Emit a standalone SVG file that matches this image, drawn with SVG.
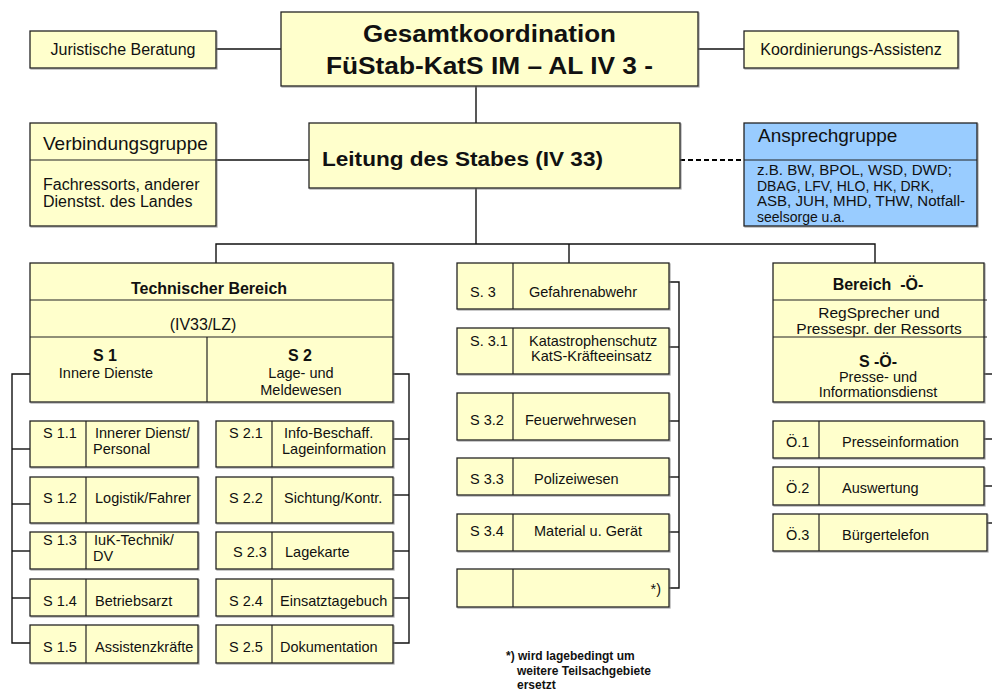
<svg xmlns="http://www.w3.org/2000/svg" width="992" height="693" viewBox="0 0 992 693">
<defs>
<filter id="sh" x="-5%" y="-5%" width="110%" height="115%">
<feDropShadow dx="1" dy="1" stdDeviation="0.6" flood-color="#777" flood-opacity="0.6"/>
</filter>
</defs>
<style>
text{font-family:"Liberation Sans",Arial,sans-serif;fill:#111}
.box{fill:#ffffcc;stroke:#222;stroke-width:1.3;filter:url(#sh)}
.blue{fill:#99ccff;stroke:#222;stroke-width:1.3;filter:url(#sh)}
.div{stroke:#222;stroke-width:1.2;fill:none}
.ln{stroke:#111;stroke-width:1.4;fill:none}
.t{font-size:14.5px}
.m{font-size:16px}
.b{font-weight:bold}
.c{text-anchor:middle}
.pre{white-space:pre}
</style>
<rect width="992" height="693" fill="#fff"/>

<g id="connectors">
<line class="ln" x1="216" y1="49" x2="281" y2="49"/>
<line class="ln" x1="698" y1="49" x2="744" y2="49"/>
<line class="ln" x1="476" y1="86" x2="476" y2="123"/>
<line class="ln" x1="216" y1="160" x2="309" y2="160"/>
<line x1="680" y1="160" x2="744" y2="160" stroke="#000" stroke-width="2.2" stroke-dasharray="5,3"/>
<line class="ln" x1="476" y1="188" x2="476" y2="244"/>
<polyline class="ln" points="216,263 216,244 875,244 875,263"/>
<line class="ln" x1="569" y1="244" x2="569" y2="263"/>
<polyline class="ln" points="30,374 12,374 12,643 30,643"/>
<line class="ln" x1="12" y1="449" x2="30" y2="449"/>
<line class="ln" x1="12" y1="504" x2="30" y2="504"/>
<line class="ln" x1="12" y1="551" x2="30" y2="551"/>
<line class="ln" x1="12" y1="598" x2="30" y2="598"/>
<polyline class="ln" points="393,374 409,374 409,643 393,643"/>
<line class="ln" x1="393" y1="439" x2="409" y2="439"/>
<line class="ln" x1="393" y1="495" x2="409" y2="495"/>
<line class="ln" x1="393" y1="551" x2="409" y2="551"/>
<line class="ln" x1="393" y1="598" x2="409" y2="598"/>
<polyline class="ln" points="669,282 679,282 679,588 669,588"/>
<line class="ln" x1="669" y1="347" x2="679" y2="347"/>
<line class="ln" x1="669" y1="421" x2="679" y2="421"/>
<line class="ln" x1="669" y1="477" x2="679" y2="477"/>
<line class="ln" x1="669" y1="532" x2="679" y2="532"/>
<line class="ln" x1="984" y1="374" x2="992" y2="374"/>
<line class="ln" x1="984" y1="439" x2="992" y2="439"/>
<line class="ln" x1="984" y1="486" x2="992" y2="486"/>
<line class="ln" x1="987" y1="523" x2="992" y2="523"/>
</g>

<g id="juristische">
<rect class="box" x="30" y="31" width="186" height="37"/>
<text class="m c" x="123" y="55">Juristische Beratung</text>
</g>

<g id="gesamt">
<rect class="box" x="281" y="12" width="417" height="74"/>
<text class="b c" x="489.5" y="42" font-size="23" textLength="253" lengthAdjust="spacingAndGlyphs">Gesamtkoordination</text>
<text class="b c" x="489.5" y="74" font-size="23" textLength="327" lengthAdjust="spacingAndGlyphs">FüStab-KatS IM – AL IV 3 -</text>
</g>

<g id="koordinierung">
<rect class="box" x="744" y="31" width="214" height="37"/>
<text class="m c" x="851" y="55">Koordinierungs-Assistenz</text>
</g>

<g id="verbindung">
<rect class="box" x="30" y="123" width="186" height="103"/>
<line class="div" x1="30" y1="160" x2="216" y2="160"/>
<text x="43" y="150" font-size="19">Verbindungsgruppe</text>
<text class="m" x="43" y="190">Fachressorts, anderer</text>
<text class="m" x="43" y="207">Dienstst. des Landes</text>
</g>

<g id="leitung">
<rect class="box" x="309" y="123" width="371" height="65"/>
<text class="b" x="322" y="166" font-size="21" textLength="281" lengthAdjust="spacingAndGlyphs">Leitung des Stabes (IV 33)</text>
</g>

<g id="ansprech">
<rect class="blue" x="744" y="123" width="233" height="103"/>
<line class="div" x1="744" y1="160" x2="977" y2="160"/>
<text x="758" y="142" font-size="19">Ansprechgruppe</text>
<text x="757" y="175" font-size="14" textLength="195" lengthAdjust="spacingAndGlyphs">z.B. BW, BPOL, WSD, DWD;</text>
<text x="757" y="191" font-size="14">DBAG, LFV, HLO, HK, DRK,</text>
<text x="757" y="206" font-size="14" textLength="208" lengthAdjust="spacingAndGlyphs">ASB, JUH, MHD, THW, Notfall-</text>
<text x="757" y="222" font-size="14">seelsorge u.a.</text>
</g>

<g id="technisch">
<rect class="box" x="30" y="263" width="363" height="139"/>
<line class="div" x1="30" y1="300" x2="393" y2="300"/>
<line class="div" x1="30" y1="337" x2="393" y2="337"/>
<line class="div" x1="207" y1="337" x2="207" y2="402"/>
<text class="b c m" x="209" y="294">Technischer Bereich</text>
<text class="c m" x="203" y="330">(IV33/LZ)</text>
<text class="b c m" x="105" y="361">S 1</text>
<text class="c t" x="106" y="378">Innere Dienste</text>
<text class="b c m" x="300" y="361">S 2</text>
<text class="c t" x="301" y="378">Lage- und</text>
<text class="c t" x="301" y="395">Meldewesen</text>
</g>

<g id="s11"><rect class="box" x="30" y="421" width="168" height="46"/><line class="div" x1="86" y1="421" x2="86" y2="467"/>
<text class="t" x="43" y="438">S 1.1</text><text class="t" x="95" y="438">Innerer Dienst/</text><text class="t" x="93" y="454">Personal</text></g>
<g id="s12"><rect class="box" x="30" y="477" width="168" height="46"/><line class="div" x1="86" y1="477" x2="86" y2="523"/>
<text class="t" x="43" y="503">S 1.2</text><text class="t" x="95" y="503">Logistik/Fahrer</text></g>
<g id="s13"><rect class="box" x="30" y="532" width="168" height="37"/><line class="div" x1="86" y1="532" x2="86" y2="569"/>
<text class="t" x="43" y="545">S 1.3</text><text class="t" x="94" y="545">IuK-Technik/</text><text class="t" x="93" y="561">DV</text></g>
<g id="s14"><rect class="box" x="30" y="579" width="168" height="37"/><line class="div" x1="86" y1="579" x2="86" y2="616"/>
<text class="t" x="43" y="606">S 1.4</text><text class="t" x="95" y="606">Betriebsarzt</text></g>
<g id="s15"><rect class="box" x="30" y="625" width="168" height="38"/><line class="div" x1="86" y1="625" x2="86" y2="663"/>
<text class="t" x="43" y="652">S 1.5</text><text class="t" x="95" y="652">Assistenzkräfte</text></g>

<g id="s21"><rect class="box" x="216" y="421" width="177" height="46"/><line class="div" x1="272" y1="421" x2="272" y2="467"/>
<text class="t" x="229" y="438">S 2.1</text><text class="t" x="284" y="438">Info-Beschaff.</text><text class="t" x="282" y="454">Lageinformation</text></g>
<g id="s22"><rect class="box" x="216" y="477" width="177" height="46"/><line class="div" x1="272" y1="477" x2="272" y2="523"/>
<text class="t" x="229" y="503">S 2.2</text><text class="t" x="284" y="503">Sichtung/Kontr.</text></g>
<g id="s23"><rect class="box" x="216" y="532" width="177" height="37"/><line class="div" x1="272" y1="532" x2="272" y2="569"/>
<text class="t" x="233" y="557">S 2.3</text><text class="t" x="285" y="557">Lagekarte</text></g>
<g id="s24"><rect class="box" x="216" y="579" width="177" height="37"/><line class="div" x1="272" y1="579" x2="272" y2="616"/>
<text class="t" x="229" y="606">S 2.4</text><text class="t" x="280" y="606">Einsatztagebuch</text></g>
<g id="s25"><rect class="box" x="216" y="625" width="177" height="38"/><line class="div" x1="272" y1="625" x2="272" y2="663"/>
<text class="t" x="229" y="652">S 2.5</text><text class="t" x="280" y="652">Dokumentation</text></g>

<g id="s3"><rect class="box" x="457" y="263" width="212" height="46"/><line class="div" x1="513" y1="263" x2="513" y2="309"/>
<text class="t" x="470" y="297">S. 3</text><text class="t" x="529" y="297">Gefahrenabwehr</text></g>
<g id="s31"><rect class="box" x="457" y="328" width="212" height="46"/><line class="div" x1="513" y1="328" x2="513" y2="374"/>
<text class="t" x="470" y="346">S. 3.1</text><text class="t" x="529" y="346">Katastrophenschutz</text><text class="t" x="531" y="361">KatS-Kräfteeinsatz</text></g>
<g id="s32"><rect class="box" x="457" y="393" width="212" height="47"/><line class="div" x1="513" y1="393" x2="513" y2="440"/>
<text class="t" x="470" y="425">S 3.2</text><text class="t" x="525" y="425">Feuerwehrwesen</text></g>
<g id="s33"><rect class="box" x="457" y="458" width="212" height="37"/><line class="div" x1="513" y1="458" x2="513" y2="495"/>
<text class="t" x="470" y="484">S 3.3</text><text class="t" x="534" y="484">Polizeiwesen</text></g>
<g id="s34"><rect class="box" x="457" y="514" width="212" height="37"/><line class="div" x1="513" y1="514" x2="513" y2="551"/>
<text class="t" x="470" y="536">S 3.4</text><text class="t" x="534" y="536">Material u. Gerät</text></g>
<g id="s3x"><rect class="box" x="457" y="569" width="212" height="38"/><line class="div" x1="513" y1="569" x2="513" y2="607"/>
<text class="t" x="661" y="594" text-anchor="end">*)</text></g>

<g id="footnote">
<text class="b" font-size="12" x="506" y="660">*) wird lagebedingt um</text>
<text class="b" font-size="12" x="517" y="675">weitere Teilsachgebiete</text>
<text class="b" font-size="12" x="517" y="689">ersetzt</text>
</g>

<g id="bereich-oe">
<rect class="box" x="773" y="263" width="211" height="139"/>
<line class="div" x1="773" y1="300" x2="987" y2="300"/>
<line class="div" x1="773" y1="337" x2="987" y2="337"/>
<text class="b c m pre" x="878" y="290">Bereich  -Ö-</text>
<text class="c" font-size="15.5" x="879" y="318">RegSprecher und</text>
<text class="c" font-size="15.5" x="879" y="334">Pressespr. der Ressorts</text>
<text class="b c m" x="878" y="367">S -Ö-</text>
<text class="c t" x="878" y="382">Presse- und</text>
<text class="c t" x="878" y="397">Informationsdienst</text>
</g>

<g id="oe1"><rect class="box" x="773" y="421" width="211" height="37"/><line class="div" x1="819" y1="421" x2="819" y2="458"/>
<text class="t" x="786" y="447">Ö.1</text><text class="t" x="842" y="447">Presseinformation</text></g>
<g id="oe2"><rect class="box" x="773" y="467" width="211" height="38"/><line class="div" x1="819" y1="467" x2="819" y2="505"/>
<text class="t" x="786" y="493">Ö.2</text><text class="t" x="842" y="493">Auswertung</text></g>
<g id="oe3"><rect class="box" x="773" y="514" width="214" height="37"/><line class="div" x1="819" y1="514" x2="819" y2="551"/>
<text class="t" x="786" y="540">Ö.3</text><text class="t" x="842" y="540">Bürgertelefon</text></g>
</svg>
